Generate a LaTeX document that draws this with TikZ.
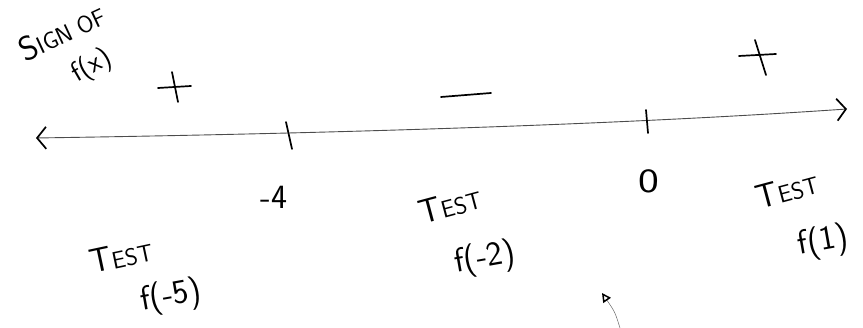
\documentclass[tikz,border=0pt]{standalone}
\usetikzlibrary{arrows.meta}
\newcommand{\bigf}{\fontsize{34}{34}\selectfont}
\newcommand{\smf}{\fontsize{24}{24}\selectfont}
\newcommand{\midf}{\fontsize{28}{28}\selectfont}
\begin{document}
\begin{tikzpicture}[x=1pt,y=1pt,
  hand/.style={font=\sffamily\bigf, inner sep=0pt, text=black},
  pen/.style={line width=1.7pt, line cap=round, black}]
\useasboundingbox (0,0) rectangle (863,328);
% number line
\coordinate (L) at (36,190);
\coordinate (R) at (847,219);
\draw[line width=0.9pt, black!70, {Straight Barb[length=9pt,width=22pt,line width=1.7pt,color=black]}-{Straight Barb[length=9pt,width=22pt,line width=1.7pt,color=black]}]
  (L) .. controls (300,194) and (600,202) .. (R);
% ticks
\coordinate (t4a) at (286,206); \coordinate (t4b) at (292,179);
\coordinate (t0a) at (646,218); \coordinate (t0b) at (648,195);
\draw[pen] (t4a) -- (t4b);
\draw[pen] (t0a) -- (t0b);
% signs
\coordinate (p1a) at (158,240); \coordinate (p1b) at (191,242);
\coordinate (p1c) at (172,256); \coordinate (p1d) at (178,226);
\draw[pen] (p1a) -- (p1b); \draw[pen] (p1c) -- (p1d);
\coordinate (p2a) at (739,272); \coordinate (p2b) at (776,274);
\coordinate (p2c) at (755,288); \coordinate (p2d) at (766,253);
\draw[pen] (p2a) -- (p2b); \draw[pen] (p2c) -- (p2d);
\coordinate (m1) at (441,231); \coordinate (m2) at (491,235);
\draw[pen] (m1) -- (m2);
% labels
\node[hand, rotate=25] (sign) at (62,296) {S{\smf IGN OF}};
\node[hand, rotate=30] (fx) at (92,262) {\midf f(x)};
\node[hand] (m4) at (274,131) {-4};
\node[hand, xscale=1.3] (zero) at (649,147) {0};
\node[hand, rotate=15] (test2) at (450,123) {T{\smf EST}};
\node[hand, rotate=10] (fm2) at (485,69) {f(-2)};
\node[hand, rotate=15] (test3) at (787,138) {T{\smf EST}};
\node[hand, rotate=10] (f1) at (823,86) {f(1)};
\node[hand, rotate=12] (test1) at (121,72) {T{\smf EST}};
\node[hand, rotate=10] (fm5) at (171,31) {f(-5)};
% stray arrow mark
\coordinate (sa) at (620,0);
\coordinate (sb) at (602,35);
\draw[line width=0.5pt, black!60, -{Triangle[length=9pt,width=9pt,open,line width=1.5pt,color=black]}] (sa) .. controls (615,16) .. (sb);
\end{tikzpicture}
\end{document}
